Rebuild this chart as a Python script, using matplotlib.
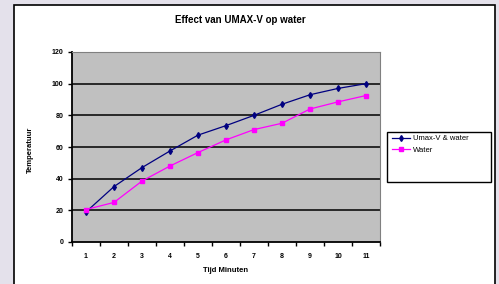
""" Effect van UMAX-V op water - line chart """
import matplotlib
matplotlib.use('Agg')
import matplotlib.pyplot as plt
from matplotlib.patches import Rectangle

minutes = [1, 2, 3, 4, 5, 6, 7, 8, 9, 10, 11]
umax_water = [19, 35, 47, 57.5, 67.5, 73.5, 80, 87, 93, 97, 100]
water = [20.5, 25, 38.5, 48, 56.5, 64.5, 71, 75, 84, 88.5, 92.5]
y_ticks = [0, 20, 40, 60, 80, 100, 120]

plt.rcParams['font.family'] = ['Liberation Sans', 'DejaVu Sans']

fig = plt.figure(figsize=(4.99, 2.84), dpi=100)
fig.patch.set_facecolor('#e4e1eb')

# white chart frame
fig.patches.append(Rectangle((14/499, -0.05), 481/499, 1.05 - 5/284,
                             transform=fig.transFigure, facecolor='white',
                             edgecolor='black', linewidth=1.2, zorder=-2))

ax = fig.add_axes([72/499, 1 - 242/284, 308/499, 190/284])
ax.set_zorder(2)
ax.set_facecolor('#c0c0c0')

for y in y_ticks[1:-1]:
    ax.axhline(y, color='black', linewidth=1.1, zorder=1)

ax.plot(minutes, umax_water, color='#000080', marker='d', markersize=3,
        linewidth=0.9, label='Umax-V & water', zorder=3)
ax.plot(minutes, water, color='#ff00ff', marker='s', markersize=2.8,
        linewidth=0.9, label='Water', zorder=3)

ax.set_xlim(0.5, 11.5)
ax.set_ylim(0, 120)
ax.set_xticks(minutes)
ax.set_xticks([m + 0.5 for m in [0] + minutes], minor=True)
ax.set_yticks(y_ticks)
ax.tick_params(axis='x', which='major', length=0, pad=8, labelsize=5)
ax.tick_params(axis='x', which='minor', length=3, width=1, color='black')
ax.tick_params(axis='y', length=3, width=1, labelsize=5, pad=3)
for lab in ax.get_xticklabels() + ax.get_yticklabels():
    lab.set_fontweight('bold')

ax.spines['left'].set_color('black')
ax.spines['bottom'].set_color('black')
ax.spines['left'].set_linewidth(1.3)
ax.spines['bottom'].set_linewidth(1.3)
ax.spines['top'].set_color('#808080')
ax.spines['right'].set_color('#808080')

fig.text(240/499, 1 - 20/284, 'Effect van UMAX-V op water', ha='center',
         va='center', fontsize=7, fontweight='bold')
fig.text(226/499, 1 - 270/284, 'Tijd Minuten', ha='center', va='center',
         fontsize=5.5, fontweight='bold')
fig.text(30/499, 1 - 150/284, 'Temperatuur', ha='center', va='center',
         rotation=90, fontsize=5.5, fontweight='bold')

# legend box
fig.patches.append(Rectangle((387/499, 1 - 182/284), 104/499, 50/284,
                             transform=fig.transFigure, facecolor='white',
                             edgecolor='black', linewidth=1.0, zorder=-1))
fig.legend(loc='upper left', bbox_to_anchor=(389/499, 1 - 132/284),
           frameon=False, fontsize=5.5, handlelength=2.4, handletextpad=0.4,
           labelspacing=0.5, borderaxespad=0)

plt.savefig('out.png', dpi=100, facecolor=fig.get_facecolor())
